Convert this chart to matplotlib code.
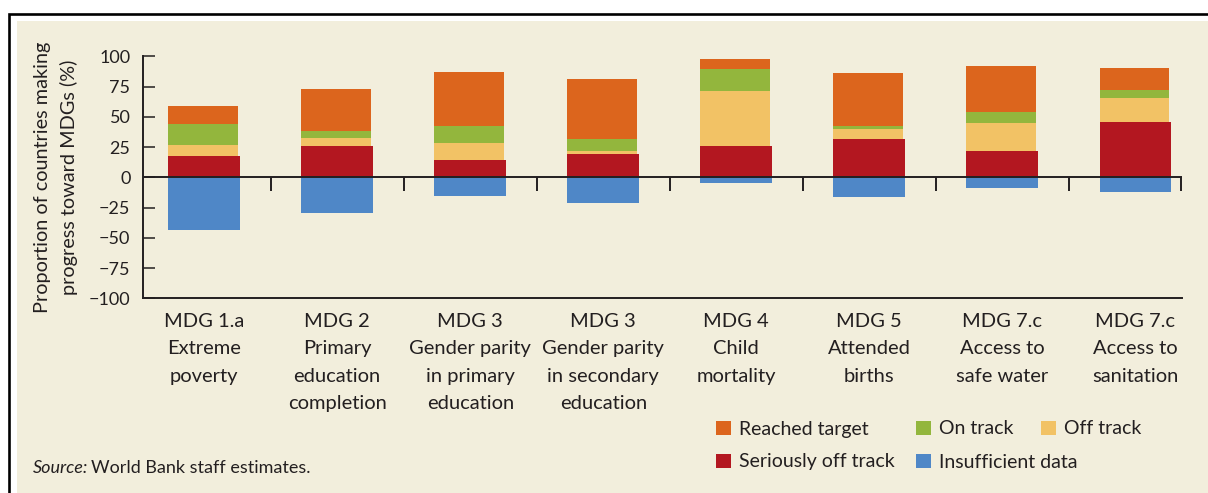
import numpy as np
import matplotlib
matplotlib.use("Agg")
import matplotlib.pyplot as plt
from matplotlib.patches import Rectangle, Patch

plt.rcParams["font.family"] = ["Lato", "DejaVu Sans"]

# data
categories = [
    "MDG 1.a\nExtreme\npoverty",
    "MDG 2\nPrimary\neducation\ncompletion",
    "MDG 3\nGender parity\nin primary\neducation",
    "MDG 3\nGender parity\nin secondary\neducation",
    "MDG 4\nChild\nmortality",
    "MDG 5\nAttended\nbirths",
    "MDG 7.c\nAccess to\nsafe water",
    "MDG 7.c\nAccess to\nsanitation",
]
seriously_off = [18, 26, 14.5, 19.5, 26, 31.5, 21.5, 45.5]
off_track = [8.5, 6.5, 14, 2.2, 45.3, 8.4, 23.4, 20]
on_track = [17.3, 5.7, 14, 9.9, 18.2, 2.5, 9.1, 6.6]
reached = [15, 34.7, 44.6, 49.6, 8.3, 43.8, 38, 18.2]
insufficient = [-43.6, -29.5, -15.5, -21.2, -4.7, -16.3, -8.8, -12.1]
yticks = [-100, -75, -50, -25, 0, 25, 50, 75, 100]

c_reached = "#DC651D"
c_on = "#93B63D"
c_off = "#F2C265"
c_serious = "#B31720"
c_insuff = "#4F87C7"
beige = "#F2EEDC"
ink = "#231F20"

W, H = 1208, 493
fig = plt.figure(figsize=(W / 100, H / 100), dpi=100, facecolor="white")

# panel background + frame
fig.patches.append(Rectangle((17 / W, 0), 1, 1 - 21 / H, transform=fig.transFigure,
                             facecolor=beige, edgecolor="none", zorder=-2))
fig.patches.append(Rectangle((8.5 / W, -0.05), 1.1, 1.05 - 14.3 / H, transform=fig.transFigure,
                             facecolor="none", edgecolor="black", lw=1.9, zorder=-1))

ax = fig.add_axes([143 / W, (H - 298.3) / H, (1182 - 143) / W, 242 / H])
ax.set_facecolor("none")

x = np.arange(len(categories))
w = 0.54
wu = 0.525
left = x - w / 2
b1 = np.array(seriously_off)
b2 = b1 + np.array(off_track)
b3 = b2 + np.array(on_track)

ax.bar(left, seriously_off, width=w, align="edge", color=c_serious, zorder=2)
ax.bar(left, off_track, width=wu, bottom=b1, align="edge", color=c_off, zorder=2)
ax.bar(left, on_track, width=wu, bottom=b2, align="edge", color=c_on, zorder=2)
ax.bar(left, reached, width=wu, bottom=b3, align="edge", color=c_reached, zorder=2)
ax.bar(left, insufficient, width=w, align="edge", color=c_insuff, zorder=2)

xmin, xmax = -0.46, 7.35
ax.set_xlim(xmin, xmax)
ax.set_ylim(-100, 100)

# zero line and category separators
ax.axhline(0, color=ink, lw=1.4, zorder=3)
seps = list(x[:-1] + 0.5) + [xmax - 0.004]
ax.vlines(seps, -11.5, 0, color=ink, lw=1.4, zorder=3)

for s in ["top", "right"]:
    ax.spines[s].set_visible(False)
for s in ["left", "bottom"]:
    ax.spines[s].set_color(ink)
    ax.spines[s].set_linewidth(1.4)

ax.set_yticks(yticks)
ax.set_yticklabels([str(v).replace("-", "\u2212") for v in yticks])
ax.tick_params(axis="y", direction="in", length=8.6, width=1.1, color=ink,
               labelsize=13, labelcolor=ink, pad=9)
ax.set_xticks(x)
ax.set_xticklabels(categories, fontsize=14.5, color=ink, linespacing=1.75)
ax.tick_params(axis="x", length=0, pad=10.4)

ax.set_ylabel("Proportion of countries making\nprogress toward MDGs (%)", fontsize=14.3,
              color=ink, linespacing=1.6, labelpad=8)

# legend
entries = [
    ("Reached target", c_reached, 716, 429),
    ("On track", c_on, 916, 429),
    ("Off track", c_off, 1041, 429),
    ("Seriously off track", c_serious, 716, 462),
    ("Insufficient data", c_insuff, 916, 462),
]
for lab, col, px, py in entries:
    lg = fig.legend(handles=[Patch(facecolor=col, edgecolor="none", label=lab)],
                    loc="center left", bbox_to_anchor=(px / W, 1 - py / H),
                    bbox_transform=fig.transFigure, frameon=False, fontsize=14,
                    borderpad=0, borderaxespad=0, handlelength=0.75, handleheight=0.75,
                    handletextpad=0.45, labelcolor=ink)

# source note
t1 = fig.text(33 / W, 1 - 468 / H, "Source:", fontsize=13, style="italic",
              color=ink, va="center", ha="left")
fig.canvas.draw()
bb = t1.get_window_extent()
fig.text((bb.x1 + 3) / W, 1 - 468 / H, "World Bank staff estimates.", fontsize=13,
         color=ink, va="center", ha="left")

fig.savefig("out.png", dpi=100, facecolor="white")
